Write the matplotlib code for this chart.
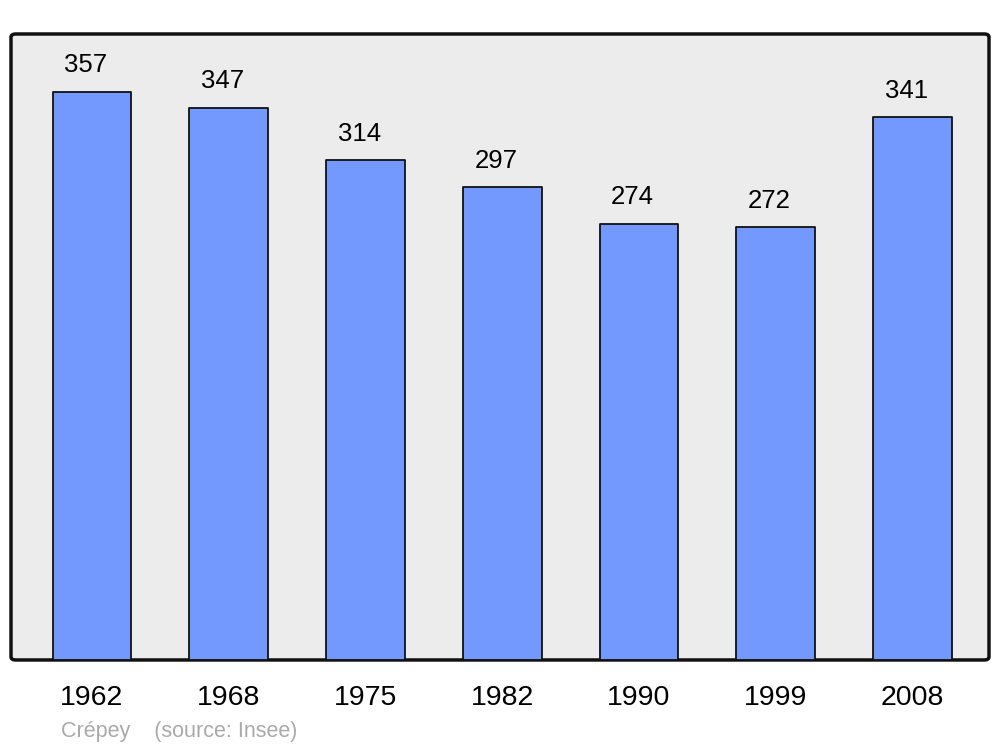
import matplotlib
matplotlib.use("Agg")
import matplotlib.pyplot as plt
from matplotlib.patches import FancyBboxPatch

plt.rcParams['font.family'] = ['Liberation Sans', 'DejaVu Sans']

years = ["1962", "1968", "1975", "1982", "1990", "1999", "2008"]
population = [357, 347, 314, 297, 274, 272, 341]

fig = plt.figure(figsize=(10, 7.47), dpi=100)
ax = fig.add_axes([0.011, 0.1165, 0.978, 0.838])
ax.set_facecolor("none")

# rounded grey frame behind the bars
frame = FancyBboxPatch((0, 0), 1, 1,
                       boxstyle="round,pad=0,rounding_size=0.005",
                       transform=ax.transAxes, facecolor="#ececec",
                       edgecolor="#111111", linewidth=2.5, zorder=0,
                       clip_on=False)
ax.add_patch(frame)

x = range(len(years))
bars = ax.bar(x, population, width=0.575, color="#7399ff",
              edgecolor="#111111", linewidth=1.3, zorder=2)
for b in bars:
    b.set_joinstyle("round")

for xi, v in zip(x, population):
    ax.annotate(str(v), (xi, v), xytext=(-4.5, 10.5), textcoords="offset points",
                ha="center", va="bottom", fontsize=18.5)

ax.set_xlim(-0.592, 6.56)
ax.set_ylim(0, 393.4)
ax.set_xticks(list(x))
ax.set_xticklabels(years, fontsize=20.5)
ax.tick_params(axis="x", length=0, pad=18)
ax.set_yticks([])
for s in ax.spines.values():
    s.set_visible(False)

fig.text(0.061, 0.021, "Crépey    (source: Insee)", color="#aaaaaa",
         fontsize=15.5, ha="left", va="center")

fig.savefig("out.png", dpi=100)
